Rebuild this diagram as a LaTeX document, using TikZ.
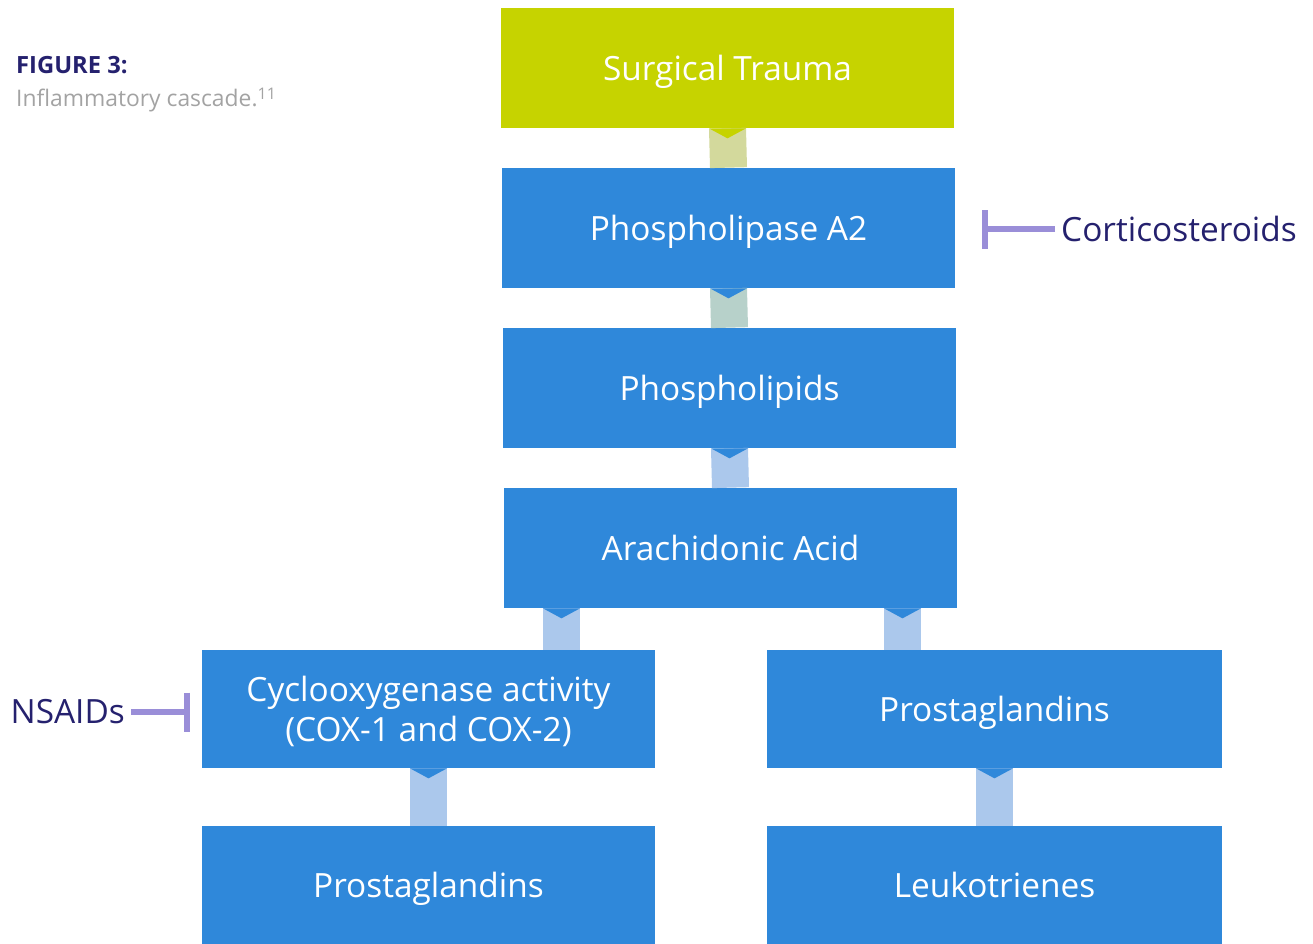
\documentclass[tikz,border=0pt]{standalone}
\usepackage{fontspec}
\setmainfont{Open Sans}
\usetikzlibrary{arrows.meta}
\definecolor{navy}{HTML}{25216E}
\definecolor{lime}{HTML}{C6D300}
\definecolor{sky}{HTML}{2F88DA}
\definecolor{limelink}{HTML}{D3D99C}
\definecolor{mintlink}{HTML}{B7D1CA}
\definecolor{skylink}{HTML}{ABC8EC}
\definecolor{lilac}{HTML}{9A8ED8}
\definecolor{capgrey}{HTML}{A3A3A3}

\newcommand{\notch}[2]{\fill[#2] (#1) ++(-.37,0) -- ++(.37,-.2) -- ++(.37,.2) -- cycle;}

\begin{document}
\begin{tikzpicture}[font=\fontsize{19}{23}\selectfont,
  box/.style={fill=sky,text=white,minimum width=9.07cm,minimum height=2.4cm,
    inner sep=0pt,align=center,text depth=0pt},
  band/.style={line width=.74cm},
  inhib/.style={lilac,line width=.12cm,-{Bar[width=.78cm]}},
  drug/.style={text=navy}]
  \useasboundingbox (0,0) rectangle (26.26,-18.88);

  % caption
  \node[anchor=west,text=navy,font=\fontsize{13.5}{16}\selectfont\bfseries]
    (figno) at (.2,-1.3) {FIGURE 3:};
  \node[anchor=west,text=capgrey,font=\fontsize{13}{16}\selectfont]
    (figcap) at (.2,-2.0) {Inflammatory cascade.\textsuperscript{11}};

  % cascade
  \node[box,fill=lime] (trauma) at (14.55,-1.36) {Surgical Trauma};
  \node[box] (pla) at (14.57,-4.56) {Phospholipase A2};
  \node[box] (lipids) at (14.59,-7.76) {Phospholipids};
  \node[box] (arach) at (14.61,-10.96) {Arachidonic Acid};
  \node[box,minimum height=2.36cm] (cox) at (8.57,-14.18)
    {Cyclooxygenase activity\\(COX-1 and COX-2)};
  \node[box,minimum width=9.1cm,minimum height=2.36cm] (prostR) at (19.89,-14.18)
    {Prostaglandins};
  \node[box,minimum height=2.36cm] (prostL) at (8.57,-17.70) {Prostaglandins};
  \node[box,minimum width=9.1cm,minimum height=2.36cm] (leuko) at (19.89,-17.70)
    {Leukotrienes};

  \coordinate (splitL) at ([xshift=-3.38cm]arach.south);
  \coordinate (splitR) at ([xshift=3.44cm]arach.south);

  \draw[band,limelink] (trauma.south) -- (pla.north);
  \draw[band,mintlink] (pla.south) -- (lipids.north);
  \draw[band,skylink] (lipids.south) -- (arach.north);
  \draw[band,skylink] (splitL) -- (splitL |- cox.north);
  \draw[band,skylink] (splitR) -- (splitR |- prostR.north);
  \draw[band,skylink] (cox.south) -- (prostL.north);
  \draw[band,skylink] (prostR.south) -- (leuko.north);

  \notch{trauma.south}{lime}
  \notch{pla.south}{sky}
  \notch{lipids.south}{sky}
  \notch{splitL}{sky}
  \notch{splitR}{sky}
  \notch{cox.south}{sky}
  \notch{prostR.south}{sky}

  % inhibitors
  \node[drug,anchor=west] (cort) at (21.1,-4.58) {Corticosteroids};
  \coordinate (cortend) at (19.64,-4.56);
  \draw[inhib] (cort.west) -- (cortend |- cort.west);

  \node[drug,anchor=east] (nsaid) at (2.62,-14.24) {NSAIDs};
  \coordinate (nsaidend) at (3.8,-14.24);
  \draw[inhib] (nsaid.east) -- (nsaidend |- nsaid.east);
\end{tikzpicture}
\end{document}
